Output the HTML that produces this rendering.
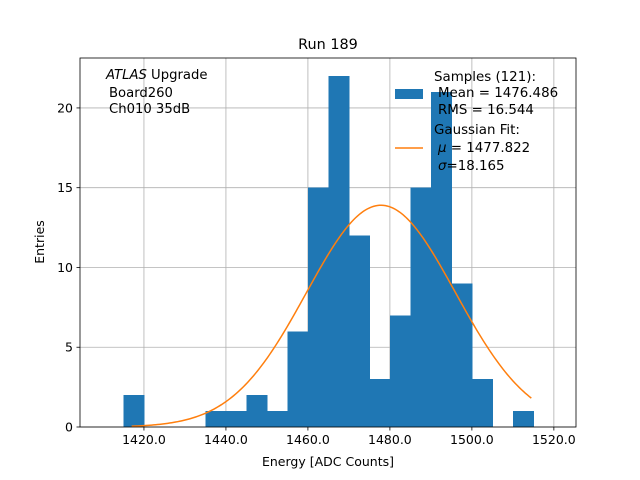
<!DOCTYPE html>
<html><head><meta charset="utf-8"><style>
body{margin:0;background:#fff}
svg{display:block;font-family:"DejaVu Sans","Liberation Sans",sans-serif}
</style></head><body>
<svg id="chart" width="640" height="480">
<rect width="640" height="480" fill="#fff"/>
<g id="grid"></g>
<g id="bars" shape-rendering="crispEdges"></g>
<g id="fit"></g>
<g id="axes"></g>
<text x="328" y="49" text-anchor="middle" font-size="14.4">Run 189</text>
<text x="328" y="466" text-anchor="middle" font-size="12.5">Energy [ADC Counts]</text>
<text transform="translate(44,242) rotate(-90)" text-anchor="middle" font-size="12.5">Entries</text>
<g font-size="13.2">
<text x="106" y="79"><tspan font-style="italic">ATLAS</tspan> Upgrade</text>
<text x="109" y="97">Board260</text>
<text x="109" y="113">Ch010 35dB</text>
</g>
<g font-size="13.4">
<rect x="395" y="89" width="28" height="10" fill="#1f77b4"/>
<text x="434" y="81">Samples (121):</text>
<text x="438" y="97">Mean = 1476.486</text>
<text x="438" y="114">RMS = 16.544</text>
<line x1="395" y1="148" x2="423" y2="148" stroke="#ff7f0e" stroke-width="1.5"/>
<text x="434" y="134">Gaussian Fit:</text>
<text x="438" y="152"><tspan font-style="italic">μ</tspan> = 1477.822</text>
<text x="438" y="170"><tspan font-style="italic">σ</tspan>=18.165</text>
</g>
</svg>
<script>
const binStarts=[1415,1420,1425,1430,1435,1440,1445,1450,1455,1460,1465,1470,1475,1480,1485,1490,1495,1500,1505,1510];
const binCounts=[2,0,0,0,1,1,2,1,6,15,22,12,3,7,15,21,9,3,0,1];
const binWidth=5;
const xTicks=[1420,1440,1460,1480,1500,1520];
const xTickLabels=["1420.0","1440.0","1460.0","1480.0","1500.0","1520.0"];
const yTicks=[0,5,10,15,20];
const fitMu=[1477.822];
const fitSigma=[18.165];
const fitAmp=[13.9];
const fitRange=[1417,1514.5];

const L=80,R=576,T=58,B=427;
const xmin=1404.4,xmax=1525.4,ymin=0,ymax=23.13;
const X=v=>L+(v-xmin)/(xmax-xmin)*(R-L);
const Y=v=>B-(v-ymin)/(ymax-ymin)*(B-T);
const NS="http://www.w3.org/2000/svg";
function mk(tag,attrs,parent){const e=document.createElementNS(NS,tag);for(const k in attrs)e.setAttribute(k,attrs[k]);parent.appendChild(e);return e;}
const grid=document.getElementById('grid'),bars=document.getElementById('bars'),fit=document.getElementById('fit'),axes=document.getElementById('axes');
xTicks.forEach((t,i)=>{
 const g=mk('line',{x1:X(t),x2:X(t),y1:T,y2:B,stroke:'#b0b0b0','stroke-width':0.8},grid);
 
 
 const tk=mk('line',{x1:X(t),x2:X(t),y1:B,y2:B+3.5,stroke:'#000','stroke-width':0.8},axes);
 
 
 const tl=mk('text',{x:X(t),y:B+17,'text-anchor':'middle','font-size':12.5},axes);
 tl.textContent=xTickLabels[i];
 
 
});
yTicks.forEach(t=>{
 const g=mk('line',{x1:L,x2:R,y1:Y(t),y2:Y(t),stroke:'#b0b0b0','stroke-width':0.8},grid);
 
 
 const tk=mk('line',{x1:L-3.5,x2:L,y1:Y(t),y2:Y(t),stroke:'#000','stroke-width':0.8},axes);
 
 
 const tl=mk('text',{x:L-7,y:Y(t)+4.5,'text-anchor':'end','font-size':12.5},axes);
 tl.textContent=t;
 
 
});
binStarts.forEach((s,i)=>{
 if(!binCounts[i])return;
 const r=mk('rect',{x:X(s),y:Y(binCounts[i]),width:X(s+binWidth)-X(s)+0.6,height:Y(0)-Y(binCounts[i]),fill:'#1f77b4'},bars);
 
 
});
let pts=[];
for(let k=0;k<=200;k++){const x=fitRange[0]+(fitRange[1]-fitRange[0])*k/200;const y=fitAmp[0]*Math.exp(-0.5*Math.pow((x-fitMu[0])/fitSigma[0],2));pts.push(X(x).toFixed(2)+','+Y(y).toFixed(2));}
const pl=mk('polyline',{points:pts.join(' '),fill:'none',stroke:'#ff7f0e','stroke-width':1.5},fit);


const fr=mk('rect',{x:L,y:T,width:R-L,height:B-T,fill:'none',stroke:'#000','stroke-width':0.8},axes);


</script>
</body></html>
